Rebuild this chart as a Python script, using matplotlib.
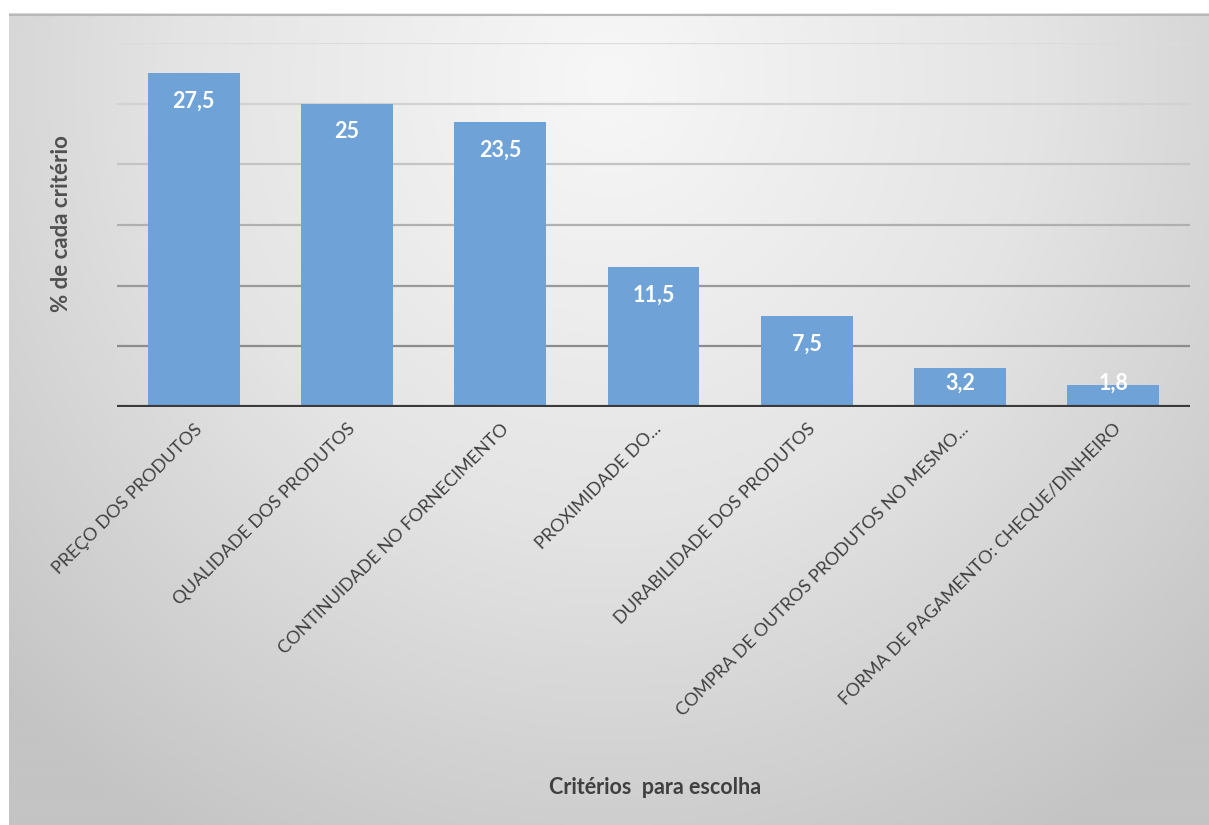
import numpy as np
import matplotlib.pyplot as plt
from matplotlib.colors import LinearSegmentedColormap

plt.rcParams['font.family'] = ['Lato', 'DejaVu Sans']

criterios = ['PREÇO DOS PRODUTOS', 'QUALIDADE DOS PRODUTOS',
             'CONTINUIDADE NO FORNECIMENTO', 'PROXIMIDADE DO...',
             'DURABILIDADE DOS PRODUTOS', 'COMPRA DE OUTROS PRODUTOS NO MESMO...',
             'FORMA DE PAGAMENTO: CHEQUE/DINHEIRO']
percent = [27.5, 25, 23.5, 11.5, 7.5, 3.2, 1.8]
rotulos = ['27,5', '25', '23,5', '11,5', '7,5', '3,2', '1,8']

W, H = 1209, 825
fig = plt.figure(figsize=(W / 100, H / 100), dpi=100)

# fundo com gradiente radial (claro em cima, cinza nas bordas)
bg = fig.add_axes([9 / W, 0, 1 - 9 / W, 1 - 13 / H])
yy, xx = np.mgrid[0:1:400j, 0:1:600j]
r = np.sqrt(((xx - 0.5) / 0.75) ** 2 + ((yy - 0.08) / 1.15) ** 2)
r = np.clip(r / 0.95, 0, 1)
cmap = LinearSegmentedColormap.from_list('fundo', ['#f7f7f7', '#e4e4e4', '#c4c4c4'])
bg.imshow(r, cmap=cmap, aspect='auto', extent=[0, 1, 1, 0], vmin=0, vmax=1)
bg.plot([0, 1], [0.002, 0.002], color='#b8b8b8', lw=1.5)
bg.set_xlim(0, 1)
bg.set_ylim(1, 0)
bg.axis('off')

ax = fig.add_axes([117 / W, 1 - 407 / H, (1190 - 117) / W, (407 - 43) / H])
ax.patch.set_alpha(0)
x = np.arange(len(criterios))
ax.set_xlim(-0.5, len(criterios) - 0.5)
ax.set_ylim(0, 30)

grid_cols = ['#8c8c8c', '#9a9a9a', '#b0b0b0', '#c4c4c4', '#d2d2d2', '#dcdcdc']
for g, c in zip(range(5, 35, 5), grid_cols):
    ax.axhline(g, color=c, lw=1.6, zorder=1)

ax.bar(x, percent, width=0.6, color='#6fa3d7', zorder=2)
ax.axhline(0, color='#3a3a3a', lw=3, zorder=3)

for xi, v, t in zip(x, percent, rotulos):
    ax.text(xi, max(v - 2.3, 2.0), t, ha='center', va='center', color='white',
            fontsize=15.5, fontweight='bold', zorder=4)

ax.set_xticks(x)
ax.set_xticklabels(criterios, rotation=45, ha='right', rotation_mode='anchor',
                   fontsize=13, color='#404040')
ax.tick_params(axis='x', length=0, pad=10)
ax.set_yticks([])
for s in ax.spines.values():
    s.set_visible(False)

fig.text(62 / W, 1 - 224 / H, '% de cada critério', rotation=90, ha='center', va='center',
         fontsize=16, fontweight='bold', color='#505050')
fig.text(655 / W, 1 - 787 / H, 'Critérios  para escolha', ha='center', va='center',
         fontsize=15.5, fontweight='bold', color='#404040')

fig.savefig('out.png', dpi=100)
